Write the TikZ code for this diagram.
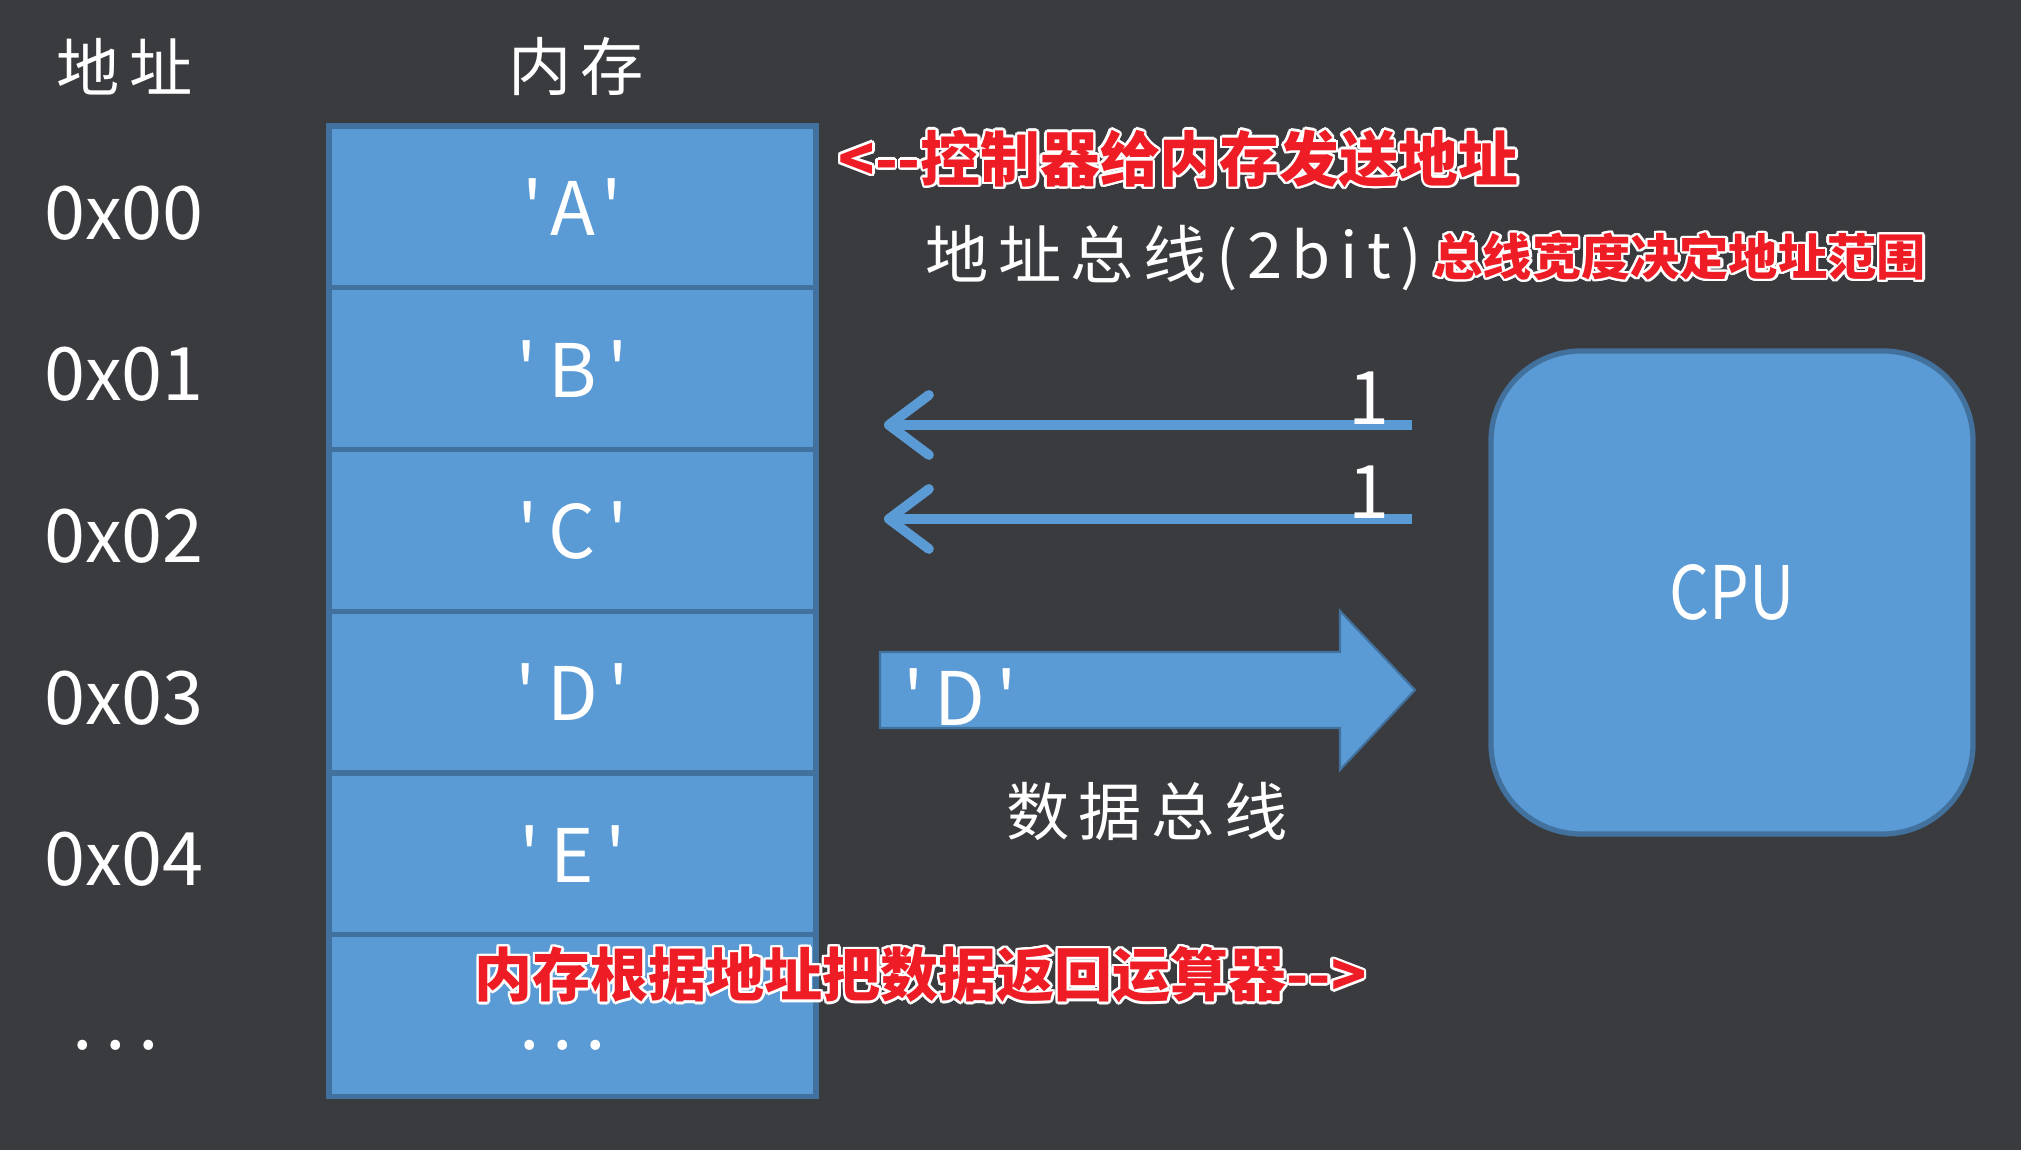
\documentclass[tikz,border=0pt]{standalone}
\usepackage{fontspec}
\setmainfont{Noto Sans CJK SC}
\newfontfamily\cnfont[LetterSpace=15,Ligatures=TeXOff]{Noto Sans CJK SC}
\newfontfamily\notefont[Ligatures=TeXOff]{Noto Sans CJK SC}
\usepackage{xcolor}
\usepackage{contour}
\contourlength{0.7pt}
\usepackage{tikz}
\usetikzlibrary{arrows.meta,positioning}
\definecolor{bgdark}{HTML}{3A3B3F}
\definecolor{memblue}{HTML}{5B9BD5}
\definecolor{memline}{HTML}{41719C}
\definecolor{notered}{HTML}{EE1C25}
\newcommand{\redtext}[1]{\contour{white}{#1}}

\tikzset{
  cell/.style={draw=memline, line width=1.5pt, fill=memblue, outer sep=0pt,
    minimum width=4.87cm, minimum height=1.617cm, text=white,
    font=\fontsize{21}{24}\selectfont\cnfont},
  addr/.style={text=white, font=\fontsize{21}{24}\selectfont},
  title/.style={text=white, font=\fontsize{18}{21}\selectfont\cnfont},
  note/.style={text=notered, inner sep=0pt, anchor=west},
  bus/.style={memblue, line width=2.8pt, -{Straight Barb[length=4mm,width=6mm,round]}},
}

\begin{document}
\begin{tikzpicture}
  \fill[bgdark] (0,0) rectangle (20.21,11.5);
  \useasboundingbox (0,0) rectangle (20.21,11.5);

  % memory column
  \node[cell] (ra) at (5.725,9.43) {'A'};
  \node[cell] [below=0pt of ra] (rb) {'B'};
  \node[cell] [below=0pt of rb] (rc) {'C'};
  \node[cell] [below=0pt of rc] (rd) {'D'};
  \node[cell] [below=0pt of rd] (re) {'E'};
  \node[cell] [below=0pt of re] (rf) {};
  \node[text=white, inner sep=0pt, font=\fontsize{21}{24}\selectfont\cnfont] at (5.63,1.05) (mdots) {.\,.\,.};

  % headings
  \node[title] at (1.25,10.83) (addrhead) {地址};
  \node[title] at (5.76,10.83) (memhead) {内存};

  % addresses
  \node[addr] at (1.24,9.37) (a0) {0x00};
  \node[addr] at (1.24,7.76) (a1) {0x01};
  \node[addr] at (1.24,6.14) (a2) {0x02};
  \node[addr] at (1.24,4.52) (a3) {0x03};
  \node[addr] at (1.24,2.91) (a4) {0x04};
  \node[text=white, inner sep=0pt, font=\fontsize{21}{24}\selectfont\cnfont] at (1.16,1.05) (adots) {.\,.\,.};

  % cpu
  \node[draw=memline, line width=1.5pt, fill=memblue, rounded corners=0.9cm,
    minimum width=4.82cm, minimum height=4.83cm, text=white,
    font=\fontsize{21}{24}\selectfont] at (17.32,5.575) (cpu) {\scalebox{0.85}[1]{CPU}};

  % address bus
  \coordinate (lane1) at (0,7.25);
  \coordinate (lane2) at (0,6.31);
  \draw[bus, shorten <=0.76cm, shorten >=0.68cm] (cpu.west |- lane1) -- (ra.east |- lane1);
  \draw[bus, shorten <=0.76cm, shorten >=0.68cm] (cpu.west |- lane2) -- (ra.east |- lane2);
  \node[text=white, inner sep=0pt, anchor=south, font=\fontsize{21}{24}\selectfont] at (13.69,7.25) (bit1) {1};
  \node[text=white, inner sep=0pt, anchor=south, font=\fontsize{21}{24}\selectfont] at (13.69,6.31) (bit2) {1};
  \node[title, anchor=west] at (9.13,8.92) (abus) {地址总线(2bit)};

  % data bus
  \fill[memblue, draw=memline, line width=0.6pt] (8.80,4.98) -- (13.40,4.98) -- (13.40,5.39)
    -- (14.15,4.60) -- (13.40,3.80) -- (13.40,4.22) -- (8.80,4.22) -- cycle;
  \node[text=white, font=\fontsize{21}{24}\selectfont\cnfont] at (9.60,4.53) (dval) {'D'};
  \node[title] at (11.47,3.38) (dbus) {数据总线};

  % notes
  \node[note, font=\fontsize{17}{20}\selectfont\notefont\bfseries] at (8.38,9.90) (ctrl) {\redtext{<--控制器给内存发送地址}};
  \node[note, font=\fontsize{14}{17}\selectfont\notefont\bfseries] at (14.33,8.92) (width) {\redtext{总线宽度决定地址范围}};
  \node[note, font=\fontsize{16.5}{19}\selectfont\notefont\bfseries] at (4.74,1.74) (back) {\redtext{内存根据地址把数据返回运算器-->}};
\end{tikzpicture}
\end{document}
